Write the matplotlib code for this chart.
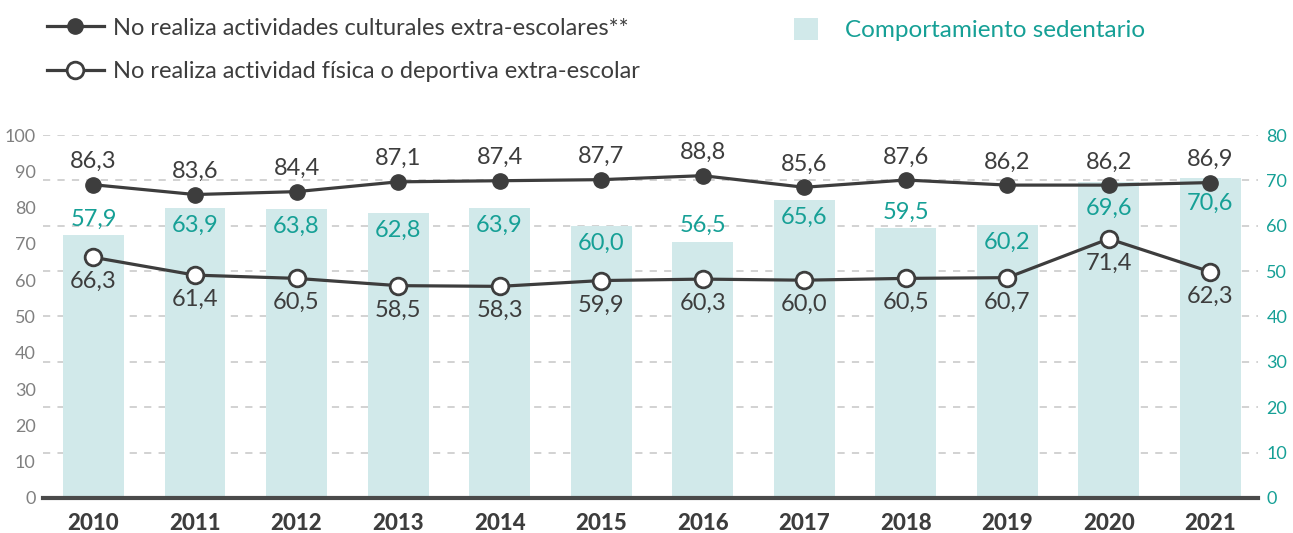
import numpy as np
import matplotlib
matplotlib.use("Agg")
import matplotlib.pyplot as plt

plt.rcParams['font.family'] = ['Lato', 'DejaVu Sans']

# Data
years = ['2010', '2011', '2012', '2013', '2014', '2015',
         '2016', '2017', '2018', '2019', '2020', '2021']
sedentario = [57.9, 63.9, 63.8, 62.8, 63.9, 60.0, 56.5, 65.6, 59.5, 60.2, 69.6, 70.6]
culturales = [86.3, 83.6, 84.4, 87.1, 87.4, 87.7, 88.8, 85.6, 87.6, 86.2, 86.2, 86.9]
fisica = [66.3, 61.4, 60.5, 58.5, 58.3, 59.9, 60.3, 60.0, 60.5, 60.7, 71.4, 62.3]

# where the bar label sits relative to the bar top
bar_label_pos = ['above', 'inside', 'inside', 'inside', 'inside', 'inside',
                 'above', 'inside', 'above', 'inside', 'deep', 'deep']

dark = '#3d3d3d'
teal = '#16a096'
bar_color = '#d1e9ea'
grid_color = '#cfcfcf'


def fmt(v):
    return f"{v:.1f}".replace('.', ',')


fig = plt.figure(figsize=(12.93, 5.33), dpi=100)
ax = fig.add_axes([0.033, 0.0657, 0.94, 0.681])
ax2 = ax.twinx()
ax.set_zorder(ax2.get_zorder() + 1)
ax.patch.set_visible(False)

x = np.arange(len(years))

# Bars on the right axis
bars = ax2.bar(x, sedentario, width=0.6, color=bar_color, zorder=2,
               label='Comportamiento sedentario')
ax2.set_ylim(0, 80)
ax2.set_yticks(np.arange(0, 81, 10))
ax2.yaxis.grid(True, linestyle=(0, (4, 4)), color=grid_color, linewidth=1.3, zorder=0)
ax2.set_axisbelow(True)
offsets = {'above': (4, 'bottom'), 'inside': (-5, 'top'), 'deep': (-11, 'top')}
for xi, v, pos in zip(x, sedentario, bar_label_pos):
    dy, va = offsets[pos]
    ax2.annotate(fmt(v), (xi, v), xytext=(0, dy), textcoords='offset points',
                 ha='center', va=va, fontsize=17, color=teal)

# Lines on the left axis
ax.plot(x, culturales, color=dark, linewidth=2.3, marker='o', markersize=11,
        markerfacecolor=dark, markeredgecolor=dark,
        label='No realiza actividades culturales extra-escolares**')
ax.plot(x, fisica, color=dark, linewidth=2.3, marker='o', markersize=12,
        markerfacecolor='white', markeredgecolor=dark, markeredgewidth=2,
        label='No realiza actividad física o deportiva extra-escolar')
for xi, v in zip(x, culturales):
    ax.annotate(fmt(v), (xi, v), xytext=(0, 9), textcoords='offset points',
                ha='center', va='bottom', fontsize=17, color=dark)
for xi, v in zip(x, fisica):
    ax.annotate(fmt(v), (xi, v), xytext=(0, -10), textcoords='offset points',
                ha='center', va='top', fontsize=17, color=dark)

ax.set_ylim(0, 100)
ax.set_yticks(np.arange(0, 101, 10))
ax.set_xlim(-0.5, 11.47)
ax.set_xticks(x)
ax.set_xticklabels(years, fontsize=16, fontweight='black', color=dark)

for a in (ax, ax2):
    for s in a.spines.values():
        s.set_visible(False)
ax.spines['bottom'].set_visible(True)
ax.spines['bottom'].set_linewidth(3)
ax.spines['bottom'].set_color('#4a4a4a')

ax.tick_params(axis='x', length=0, pad=11)
ax.tick_params(axis='y', length=0, pad=5, labelsize=13, labelcolor='#808080')
ax2.tick_params(axis='y', length=0, pad=6, labelsize=13, labelcolor=teal)

# Legends
leg1 = fig.legend(handles=ax.get_lines(), loc='upper left',
                  bbox_to_anchor=(0.020, 1.007), frameon=False, fontsize=17,
                  handlelength=2.4, handletextpad=0.4, labelspacing=0.95)
for t in leg1.get_texts():
    t.set_color(dark)
leg2 = fig.legend(handles=[bars], loc='upper left',
                  bbox_to_anchor=(0.597, 1.007), frameon=False, fontsize=17.5,
                  handlelength=1.0, handleheight=1.0, handletextpad=1.1)
for t in leg2.get_texts():
    t.set_color(teal)

fig.savefig('out.png', dpi=100)
